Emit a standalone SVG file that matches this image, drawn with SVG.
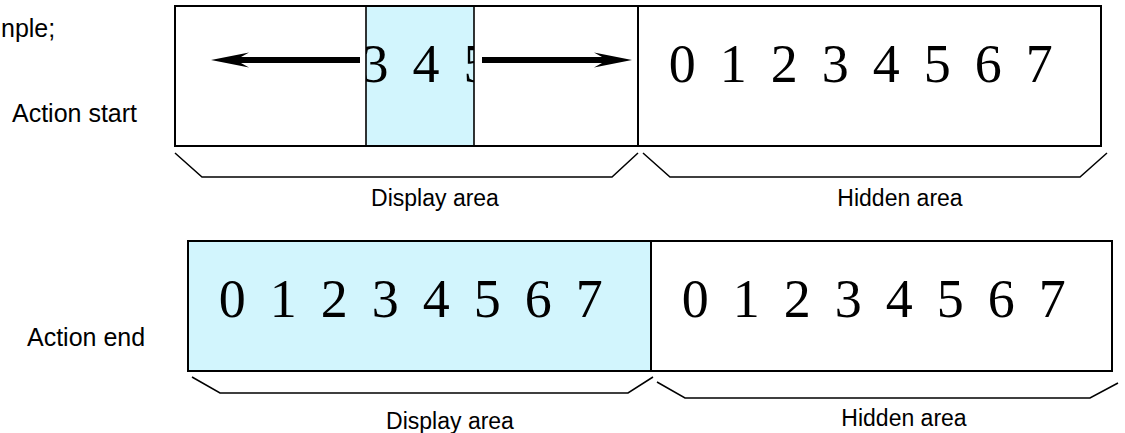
<svg xmlns="http://www.w3.org/2000/svg" width="1125" height="433" viewBox="0 0 1125 433">
  <style>
    .box { fill: #ffffff; stroke: #000000; stroke-width: 2; }
    .blue { fill: #D2F5FD; stroke: #000000; stroke-width: 2; }
    .div { stroke: #000000; stroke-width: 1.6; fill: none; }
    .brace { fill: none; stroke: #000000; stroke-width: 1.5; stroke-linejoin: miter; }
    .digits { font-family: "Liberation Serif", "Times New Roman", serif; font-size: 54px; letter-spacing: 5.25px; fill: #000000; }
    .lbl { font-family: "Liberation Sans", Arial, sans-serif; font-size: 23px; fill: #000000; }
    .act { font-family: "Liberation Sans", Arial, sans-serif; font-size: 25px; fill: #000000; }
    .arrow { fill: #000000; stroke: none; }
  </style>
  <defs>
    <clipPath id="bandClip">
      <rect x="366" y="6" width="108" height="140"/>
    </clipPath>
  </defs>
  <rect x="0" y="0" width="1125" height="433" fill="#ffffff"/>

  <text class="act" x="1" y="37" font-size="24">nple;</text>

  <!-- Top row: action start -->
  <g id="start-label">
    <text class="act" x="12" y="122">Action start</text>
  </g>
  <g id="start-display">
    <rect class="box" x="175" y="6" width="463" height="140"/>
    <rect x="366" y="6" width="108" height="140" fill="#D2F5FD"/>
    <text class="digits" x="361.4" y="82" clip-path="url(#bandClip)">3 4 5</text>
    <line class="div" x1="366" y1="6" x2="366" y2="146"/>
    <line class="div" x1="474" y1="6" x2="474" y2="146"/>
    <rect x="175" y="6" width="463" height="140" fill="none" stroke="#000" stroke-width="2"/>
  </g>
  <g id="start-hidden">
    <rect class="box" x="638" y="6" width="463" height="140"/>
    <text class="digits" x="668.7" y="82">0 1 2 3 4 5 6 7</text>
  </g>
  <g id="start-braces">
    <polyline class="brace" points="175,153 202,177 612,177 638,153"/>
    <polyline class="brace" points="643,153 670,177 1080,177 1107,153"/>
    <text class="lbl" x="435" y="206" text-anchor="middle">Display area</text>
    <text class="lbl" x="900" y="206" text-anchor="middle">Hidden area</text>
  </g>

  <!-- Bottom row: action end -->
  <g id="end-label">
    <text class="act" x="27" y="346">Action end</text>
  </g>
  <g id="end-display">
    <rect class="blue" x="188" y="241" width="463" height="130"/>
    <text class="digits" x="218.7" y="317">0 1 2 3 4 5 6 7</text>
  </g>
  <g id="end-hidden">
    <rect class="box" x="651" y="241" width="461" height="130"/>
    <text class="digits" x="681.7" y="317">0 1 2 3 4 5 6 7</text>
  </g>
  <g id="end-braces">
    <polyline class="brace" points="192,377 220,393 628,393 653,377"/>
    <polyline class="brace" points="657,382 685,398 1090,398 1118,383"/>
    <text class="lbl" x="450" y="429" text-anchor="middle">Display area</text>
    <text class="lbl" x="904" y="426" text-anchor="middle">Hidden area</text>
  </g>

  <!-- Connectors -->
  <g id="connectors">
    <path class="arrow" d="M211,60 L249,52.5 L241,57 L360,57 L360,63 L241,63 L249,67.5 Z"/>
    <path class="arrow" d="M482,57 L602,57 L594,52.5 L632,60 L594,67.5 L602,63 L482,63 Z"/>
  </g>
</svg>
